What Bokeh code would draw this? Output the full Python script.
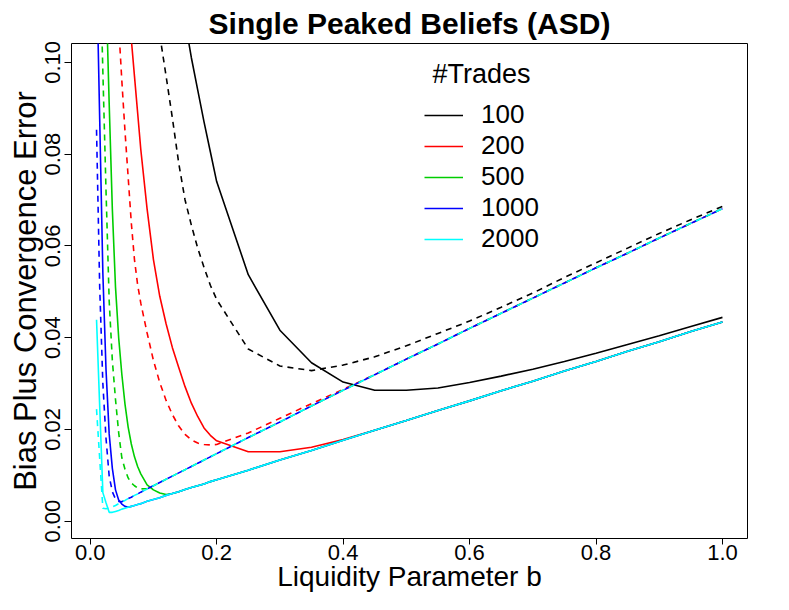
from bokeh.plotting import figure
from bokeh.models import Range1d, FixedTicker, Legend, LegendItem, NumeralTickFormatter, Label
from bokeh.embed import file_html
from bokeh.resources import INLINE

# Liquidity parameter grid (shared x values)
b = [0.01, 0.015, 0.02, 0.025, 0.03, 0.035, 0.04, 0.045, 0.05, 0.055, 0.06, 0.065,
     0.07, 0.075, 0.08, 0.09, 0.10, 0.11, 0.12, 0.13, 0.14, 0.15, 0.16, 0.17, 0.18,
     0.19, 0.20, 0.25, 0.30, 0.35, 0.40, 0.45, 0.50, 0.55, 0.60, 0.65, 0.70, 0.75,
     0.80, 0.85, 0.90, 0.95, 1.00]

# Each series covers the last len(series) points of b (earlier points are off-chart)
solid_100 = [0.109, 0.101, 0.094, 0.087, 0.0805, 0.074,
             0.0537, 0.0416, 0.0345, 0.0303, 0.0285, 0.0285, 0.0290, 0.0302, 0.0316,
             0.0331, 0.0348, 0.0366, 0.0385, 0.0404, 0.0424, 0.0444]
dashed_100 = [0.106, 0.097, 0.0878, 0.078, 0.070, 0.0645, 0.0595, 0.0553, 0.0514, 0.0483,
              0.0375, 0.0338, 0.0328, 0.0340, 0.0358, 0.0382, 0.0409, 0.0436, 0.0466,
              0.0497, 0.0531, 0.0563, 0.0595, 0.0627, 0.0657, 0.0686]

solid_200 = [0.116, 0.105, 0.097, 0.089, 0.081,
             0.068, 0.057, 0.049, 0.043, 0.0378, 0.0335, 0.0293, 0.0257, 0.0228, 0.0203,
             0.0187, 0.0175,
             0.0151, 0.0151, 0.0161, 0.0178, 0.0198, 0.0219, 0.0241, 0.0262, 0.0284,
             0.0305, 0.0327, 0.0348, 0.0370, 0.0391, 0.0413, 0.0434]
dashed_200 = [0.108, 0.096, 0.085, 0.075, 0.065, 0.057, 0.0515, 0.0475,
              0.041, 0.035, 0.0302, 0.0263, 0.0232, 0.0207, 0.0189, 0.0177, 0.0170,
              0.0167, 0.0166, 0.0167,
              0.0192, 0.0224, 0.0256, 0.0287, 0.0319, 0.0353, 0.0386, 0.0420, 0.0453,
              0.0486, 0.0519, 0.0552, 0.0584, 0.0617, 0.0649, 0.0681]

solid_500 = [0.116, 0.091, 0.068, 0.051, 0.040, 0.032, 0.0255, 0.0205, 0.0168, 0.0140,
             0.0119, 0.0103,
             0.0079, 0.0068, 0.0061, 0.0058, 0.0060, 0.0064, 0.0069, 0.0073, 0.0077,
             0.0081, 0.0086, 0.0090,
             0.0111, 0.0133, 0.0154, 0.0176, 0.0198, 0.0219, 0.0241, 0.0262, 0.0284,
             0.0305, 0.0327, 0.0348, 0.0370, 0.0391, 0.0413, 0.0434]
dashed_500 = [0.125, 0.098, 0.072, 0.048, 0.035, 0.0265, 0.0193, 0.0138, 0.0113, 0.0094,
              0.0083, 0.0077, 0.0072, 0.0070,
              0.0071, 0.0077, 0.0084, 0.0091, 0.0098, 0.0105, 0.0112, 0.0119, 0.0126,
              0.0133, 0.0140, 0.0147,
              0.0182, 0.0216, 0.0251, 0.0285, 0.0319, 0.0353, 0.0386, 0.0420, 0.0453,
              0.0486, 0.0519, 0.0552, 0.0584, 0.0617, 0.0649, 0.0681]

solid_1000 = [0.121, 0.0876, 0.054, 0.033, 0.019, 0.0115, 0.0068, 0.0046, 0.0037, 0.0032,
              0.0030, 0.0032, 0.0034, 0.0036, 0.0038,
              0.0043, 0.0047, 0.0051, 0.0056, 0.0060, 0.0064, 0.0069, 0.0073, 0.0077,
              0.0081, 0.0086, 0.0090,
              0.0111, 0.0133, 0.0154, 0.0176, 0.0198, 0.0219, 0.0241, 0.0262, 0.0284,
              0.0305, 0.0327, 0.0348, 0.0370, 0.0391, 0.0413, 0.0434]
dashed_1000 = [0.0853, 0.051, 0.030, 0.018, 0.0098, 0.0064, 0.0048, 0.0043, 0.0042, 0.0046,
               0.0049, 0.0052, 0.0056, 0.0059, 0.0063,
               0.0070, 0.0077, 0.0084, 0.0091, 0.0098, 0.0105, 0.0112, 0.0119, 0.0126,
               0.0133, 0.0140, 0.0147,
               0.0182, 0.0216, 0.0251, 0.0285, 0.0319, 0.0353, 0.0386, 0.0420, 0.0453,
               0.0486, 0.0519, 0.0552, 0.0584, 0.0617, 0.0649, 0.0681]

solid_2000 = [0.0439, 0.025, 0.0062, 0.0040, 0.0019, 0.0019, 0.0021, 0.0023, 0.0026, 0.0028,
              0.0030, 0.0032, 0.0034, 0.0036, 0.0038,
              0.0043, 0.0047, 0.0051, 0.0056, 0.0060, 0.0064, 0.0069, 0.0073, 0.0077,
              0.0081, 0.0086, 0.0090,
              0.0111, 0.0133, 0.0154, 0.0176, 0.0198, 0.0219, 0.0241, 0.0262, 0.0284,
              0.0305, 0.0327, 0.0348, 0.0370, 0.0391, 0.0413, 0.0434]
dashed_2000 = [0.0244, 0.0136, 0.0028, 0.0027, 0.0028, 0.0031, 0.0034, 0.0038, 0.0042, 0.0045,
               0.0049, 0.0052, 0.0056, 0.0059, 0.0063,
               0.0070, 0.0077, 0.0084, 0.0091, 0.0098, 0.0105, 0.0112, 0.0119, 0.0126,
               0.0133, 0.0140, 0.0147,
               0.0182, 0.0216, 0.0251, 0.0285, 0.0319, 0.0353, 0.0386, 0.0420, 0.0453,
               0.0486, 0.0519, 0.0552, 0.0584, 0.0617, 0.0649, 0.0681]

trade_labels = ["100", "200", "500", "1000", "2000"]
legend_title = "#Trades"
colors = ["black", "#FF0000", "#00CD00", "#0000FF", "#00FFFF"]
solid_series = [solid_100, solid_200, solid_500, solid_1000, solid_2000]
dashed_series = [dashed_100, dashed_200, dashed_500, dashed_1000, dashed_2000]

x_ticks = [0.0, 0.2, 0.4, 0.6, 0.8, 1.0]
y_ticks = [0.00, 0.02, 0.04, 0.06, 0.08, 0.10]

FONT = "Liberation Sans"

p = figure(width=773, height=594, output_backend="svg", toolbar_location=None,
           x_range=Range1d(-0.0296, 1.0396), y_range=Range1d(-0.0038, 0.1041),
           min_border_left=71, min_border_right=26, min_border_top=42,
           min_border_bottom=55, title="Single Peaked Beliefs (ASD)")

p.title.align = "center"
p.title.offset = 6
p.title.text_font = FONT
p.title.text_font_size = "30px"
p.title.text_font_style = "bold"
p.title.text_color = "black"
p.title.standoff = 8

p.grid.visible = False
p.outline_line_color = "black"
p.outline_line_width = 1
p.background_fill_color = "white"
p.border_fill_color = "white"

p.xaxis.axis_label = "Liquidity Parameter b"
p.yaxis.axis_label = "Bias Plus Convergence Error"
p.xaxis.ticker = FixedTicker(ticks=x_ticks)
p.yaxis.ticker = FixedTicker(ticks=y_ticks)
p.xaxis.formatter = NumeralTickFormatter(format="0.0")
p.yaxis.formatter = NumeralTickFormatter(format="0.00")
p.yaxis.major_label_orientation = "vertical"

for ax in (p.xaxis[0], p.yaxis[0]):
    ax.axis_line_color = None
    ax.major_tick_in = 0
    ax.major_tick_line_color = "black"
    ax.minor_tick_line_color = None
    ax.major_label_text_font = FONT
    ax.major_label_text_font_size = "22px"
    ax.major_label_text_color = "black"
    ax.axis_label_text_font = FONT
    ax.axis_label_text_font_style = "normal"
    ax.axis_label_text_color = "black"

p.xaxis.major_tick_out = 6
p.xaxis.major_label_standoff = 0
p.xaxis.axis_label_text_font_size = "28px"
p.xaxis.axis_label_standoff = -2

p.yaxis.major_tick_out = 7
p.yaxis.major_label_standoff = 4
p.yaxis.axis_label_text_font_size = "31px"
p.yaxis.axis_label_standoff = 0

solid_renderers = []
for ys, col in zip(solid_series, colors):
    r = p.line(b[len(b) - len(ys):], ys, line_color=col, line_width=1.6)
    solid_renderers.append(r)
for yd, col in zip(dashed_series, colors):
    p.line(b[len(b) - len(yd):], yd, line_color=col, line_width=1.6, line_dash="6 5")

legend = Legend(
    items=[LegendItem(label=lab, renderers=[r]) for lab, r in zip(trade_labels, solid_renderers)],
    location=(353, 284),
    border_line_color=None, background_fill_alpha=0, padding=0, margin=0, spacing=0,
    glyph_width=39, glyph_height=28, label_height=28, label_standoff=18,
    label_text_font=FONT, label_text_font_size="26px", label_text_color="black")
p.add_layout(legend)

p.add_layout(Label(x=0.5414, y=0.0975, text=legend_title, text_font=FONT,
                   text_font_size="27px", text_color="black",
                   text_align="left", text_baseline="middle"))

open("out.html", "w").write(file_html(p, INLINE))
